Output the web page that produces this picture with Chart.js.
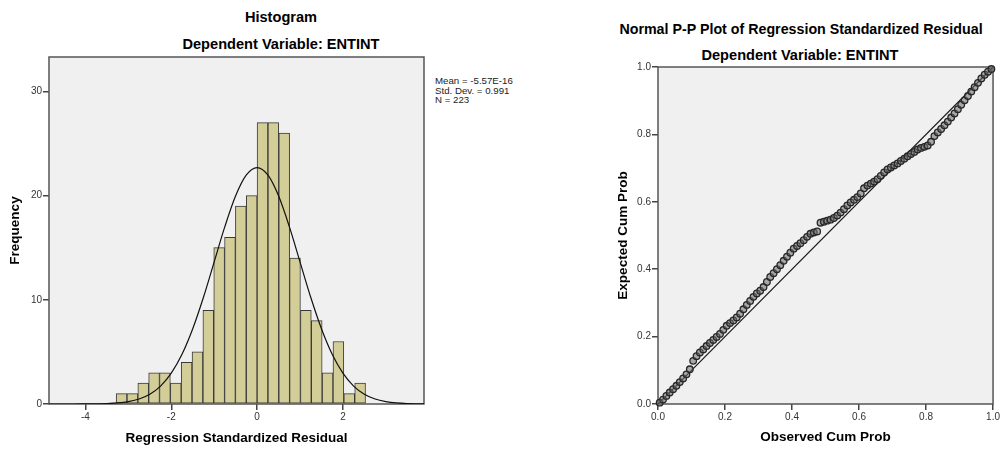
<!DOCTYPE html>
<html>
<head>
<meta charset="utf-8">
<script src="https://cdn.jsdelivr.net/npm/chart.js@4.4.1/dist/chart.umd.min.js"></script>
<style>
  body { margin: 0; background: #fff; width: 1001px; height: 449px; position: relative; overflow: hidden;
         font-family: 'Liberation Sans', Arial, sans-serif; }
  canvas { position: absolute; top: 0; }
  #hist { left: 0; }
  #pp { left: 601px; }
  .title { position: absolute; font-weight: bold; font-size: 14.6px; line-height: 18px; color: #000;
           white-space: nowrap; transform: translateX(-50%); }
  #stats { position: absolute; left: 435px; top: 76px; font-size: 9.7px; line-height: 9.7px; color: #222; white-space: nowrap; }
</style>
</head>
<body>
<div class="title" style="left:281px; top:8px">Histogram</div>
<div class="title" style="left:281px; top:35px">Dependent Variable: ENTINT</div>
<div id="stats">Mean = -5.57E-16<br>Std. Dev. = 0.991<br>N = 223</div>
<div class="title" style="left:801px; top:20px; font-size:14.25px">Normal P-P Plot of Regression Standardized Residual</div>
<div class="title" style="left:800px; top:46px">Dependent Variable: ENTINT</div>

<canvas id="hist" width="530" height="449"></canvas>
<canvas id="pp" width="400" height="449"></canvas>

<script>
// Histogram bins (centres) and frequencies
const binCenters = [-3.159, -2.906, -2.653, -2.401, -2.148, -1.895, -1.643, -1.390, -1.137, -0.884, -0.632, -0.379,
                    -0.126, 0.126, 0.379, 0.632, 0.884, 1.137, 1.390, 1.643, 1.895, 2.148, 2.401];
const counts = [1, 1, 2, 3, 3, 2, 4, 5, 9, 15, 16, 19, 20, 27, 27, 26, 14, 9, 8, 3, 6, 1, 2];

// Normal curve
const curveX = [-5, -4.75, -4.5, -4.25, -4, -3.75, -3.5, -3.25, -3, -2.75, -2.5, -2.25, -2, -1.75, -1.5, -1.25, -1,
                -0.75, -0.5, -0.25, 0, 0.25, 0.5, 0.75, 1, 1.25, 1.5, 1.75, 2, 2.25, 2.5, 2.75, 3, 3.25, 3.5, 3.75, 4];
const curveY = [0, 0, 0, 0, 0.01, 0.02, 0.04, 0.10, 0.23, 0.48, 0.94, 1.72, 2.96, 4.77, 7.22, 10.24, 13.64,
                17.04, 19.98, 21.98, 22.69, 21.98, 19.98, 17.04, 13.64, 10.24, 7.22, 4.77, 2.96, 1.72, 0.94, 0.48,
                0.23, 0.10, 0.04, 0.02, 0.01];

const histXTicks = [-4, -2, 0, 2];
const histYTicks = [0, 10, 20, 30];

// P-P plot: observed vs expected cumulative probability
const observed = [0.005, 0.015, 0.025, 0.035, 0.045, 0.055, 0.065, 0.075, 0.085, 0.095,
                  0.105, 0.115, 0.125, 0.135, 0.145, 0.155, 0.165, 0.175, 0.185, 0.195,
                  0.205, 0.215, 0.225, 0.235, 0.245, 0.255, 0.265, 0.275, 0.285, 0.295,
                  0.305, 0.315, 0.325, 0.335, 0.345, 0.355, 0.365, 0.375, 0.385, 0.395,
                  0.405, 0.415, 0.425, 0.435, 0.445, 0.455, 0.465, 0.475, 0.485, 0.495,
                  0.505, 0.515, 0.525, 0.535, 0.545, 0.555, 0.565, 0.575, 0.585, 0.595,
                  0.605, 0.615, 0.625, 0.635, 0.645, 0.655, 0.665, 0.675, 0.685, 0.695,
                  0.705, 0.715, 0.725, 0.735, 0.745, 0.755, 0.765, 0.775, 0.785, 0.795,
                  0.805, 0.815, 0.825, 0.835, 0.845, 0.855, 0.865, 0.875, 0.885, 0.895,
                  0.905, 0.915, 0.925, 0.935, 0.945, 0.955, 0.965, 0.975, 0.985, 0.995];
const expected = [0.004, 0.013, 0.024, 0.034, 0.044, 0.054, 0.065, 0.076, 0.088, 0.103,
                  0.128, 0.142, 0.153, 0.162, 0.172, 0.181, 0.190, 0.199, 0.208, 0.220,
                  0.232, 0.240, 0.248, 0.257, 0.268, 0.281, 0.294, 0.306, 0.318, 0.328,
                  0.336, 0.347, 0.362, 0.377, 0.388, 0.400, 0.412, 0.425, 0.437, 0.449,
                  0.461, 0.469, 0.477, 0.486, 0.496, 0.505, 0.509, 0.512, 0.538, 0.541,
                  0.544, 0.547, 0.552, 0.559, 0.568, 0.578, 0.589, 0.598, 0.606, 0.614,
                  0.625, 0.640, 0.648, 0.654, 0.660, 0.667, 0.677, 0.687, 0.696, 0.702,
                  0.708, 0.714, 0.721, 0.728, 0.735, 0.742, 0.748, 0.755, 0.760, 0.763,
                  0.767, 0.778, 0.795, 0.806, 0.816, 0.827, 0.838, 0.850, 0.862, 0.875,
                  0.888, 0.901, 0.914, 0.927, 0.940, 0.953, 0.966, 0.977, 0.986, 0.994];
const ppTicks = [0, 0.2, 0.4, 0.6, 0.8, 1.0];

const FONT = "'Liberation Sans', Arial, sans-serif";
const tickFont = { family: FONT, size: 10 };
const axisTitleFont = { family: FONT, size: 13.5, weight: 'bold' };

// grey plot background + frame, SPSS style
const plotFrame = {
    id: 'plotFrame',
    beforeDraw(chart) {
        const { ctx, chartArea: a } = chart;
        ctx.save();
        ctx.fillStyle = '#f0f0f0';
        ctx.fillRect(a.left, a.top, a.right - a.left, a.bottom - a.top);
        ctx.restore();
    },
    beforeDatasetsDraw(chart) {
        const { ctx, chartArea: a } = chart;
        ctx.save();
        ctx.strokeStyle = '#555';
        ctx.lineWidth = 1.5;
        ctx.strokeRect(a.left, a.top, a.right - a.left, a.bottom - a.top);
        ctx.restore();
    }
};

function axis(min, max, ticks, fmt, fitSize, title, titlePad, horizontal) {
    return {
        type: 'linear',
        min: min,
        max: max,
        offset: false,
        afterBuildTicks: (scale) => { scale.ticks = ticks.map(v => ({ value: v })); },
        afterFit: (scale) => { if (horizontal) scale.height = fitSize; else scale.width = fitSize; },
        grid: { display: true, drawOnChartArea: false, drawTicks: true, tickLength: 6, color: '#444', lineWidth: 1.5, offset: false },
        border: { display: false },
        ticks: { font: tickFont, color: '#333', padding: 1, maxRotation: 0, autoSkip: false, callback: fmt },
        title: { display: true, text: title, font: axisTitleFont, color: '#000', padding: titlePad }
    };
}

new Chart(document.getElementById('hist'), {
    type: 'bar',
    data: {
        datasets: [
            {
                type: 'line',
                data: curveX.map((x, i) => ({ x: x, y: curveY[i] })),
                borderColor: '#111',
                borderWidth: 1.2,
                pointRadius: 0,
                cubicInterpolationMode: 'monotone',
                fill: false,
                order: 0
            },
            {
                type: 'bar',
                data: binCenters.map((x, i) => ({ x: x, y: counts[i] })),
                backgroundColor: '#d3ce98',
                borderColor: '#3a3a3a',
                borderWidth: 1,
                borderSkipped: false,
                barPercentage: 1,
                categoryPercentage: 1,
                order: 1
            }
        ]
    },
    options: {
        responsive: false,
        animation: false,
        layout: { padding: { top: 57, right: 106, left: 0, bottom: 0 } },
        plugins: { legend: { display: false }, tooltip: { enabled: false } },
        scales: {
            x: axis(-4.85, 3.89, histXTicks, v => String(v), 45, 'Regression Standardized Residual', { top: 0, bottom: 2.6 }, true),
            y: axis(0, 33.3, histYTicks, v => String(v), 49, 'Frequency', { top: 7, bottom: 0 }, false)
        }
    },
    plugins: [plotFrame]
});

new Chart(document.getElementById('pp'), {
    type: 'scatter',
    data: {
        datasets: [
            {
                type: 'line',
                data: [{ x: 0, y: 0 }, { x: 1, y: 1 }],
                borderColor: '#1a1a1a',
                borderWidth: 1.2,
                pointRadius: 0,
                fill: false,
                order: 1
            },
            {
                data: observed.map((x, i) => ({ x: x, y: expected[i] })),
                pointRadius: 3.3,
                pointBorderWidth: 1.3,
                pointBorderColor: '#262626',
                pointBackgroundColor: 'rgba(110,110,110,0.55)',
                clip: 5,
                order: 0
            }
        ]
    },
    options: {
        responsive: false,
        animation: false,
        layout: { padding: { top: 67, right: 7, left: 0, bottom: 0 } },
        plugins: { legend: { display: false }, tooltip: { enabled: false } },
        scales: {
            x: axis(0, 1, ppTicks, v => v.toFixed(1), 45, 'Observed Cum Prob', { top: 0, bottom: 3.9 }, true),
            y: axis(0, 1, ppTicks, v => v.toFixed(1), 57, 'Expected Cum Prob', { top: 14.4, bottom: 0 }, false)
        }
    },
    plugins: [plotFrame]
});
</script>
</body>
</html>
